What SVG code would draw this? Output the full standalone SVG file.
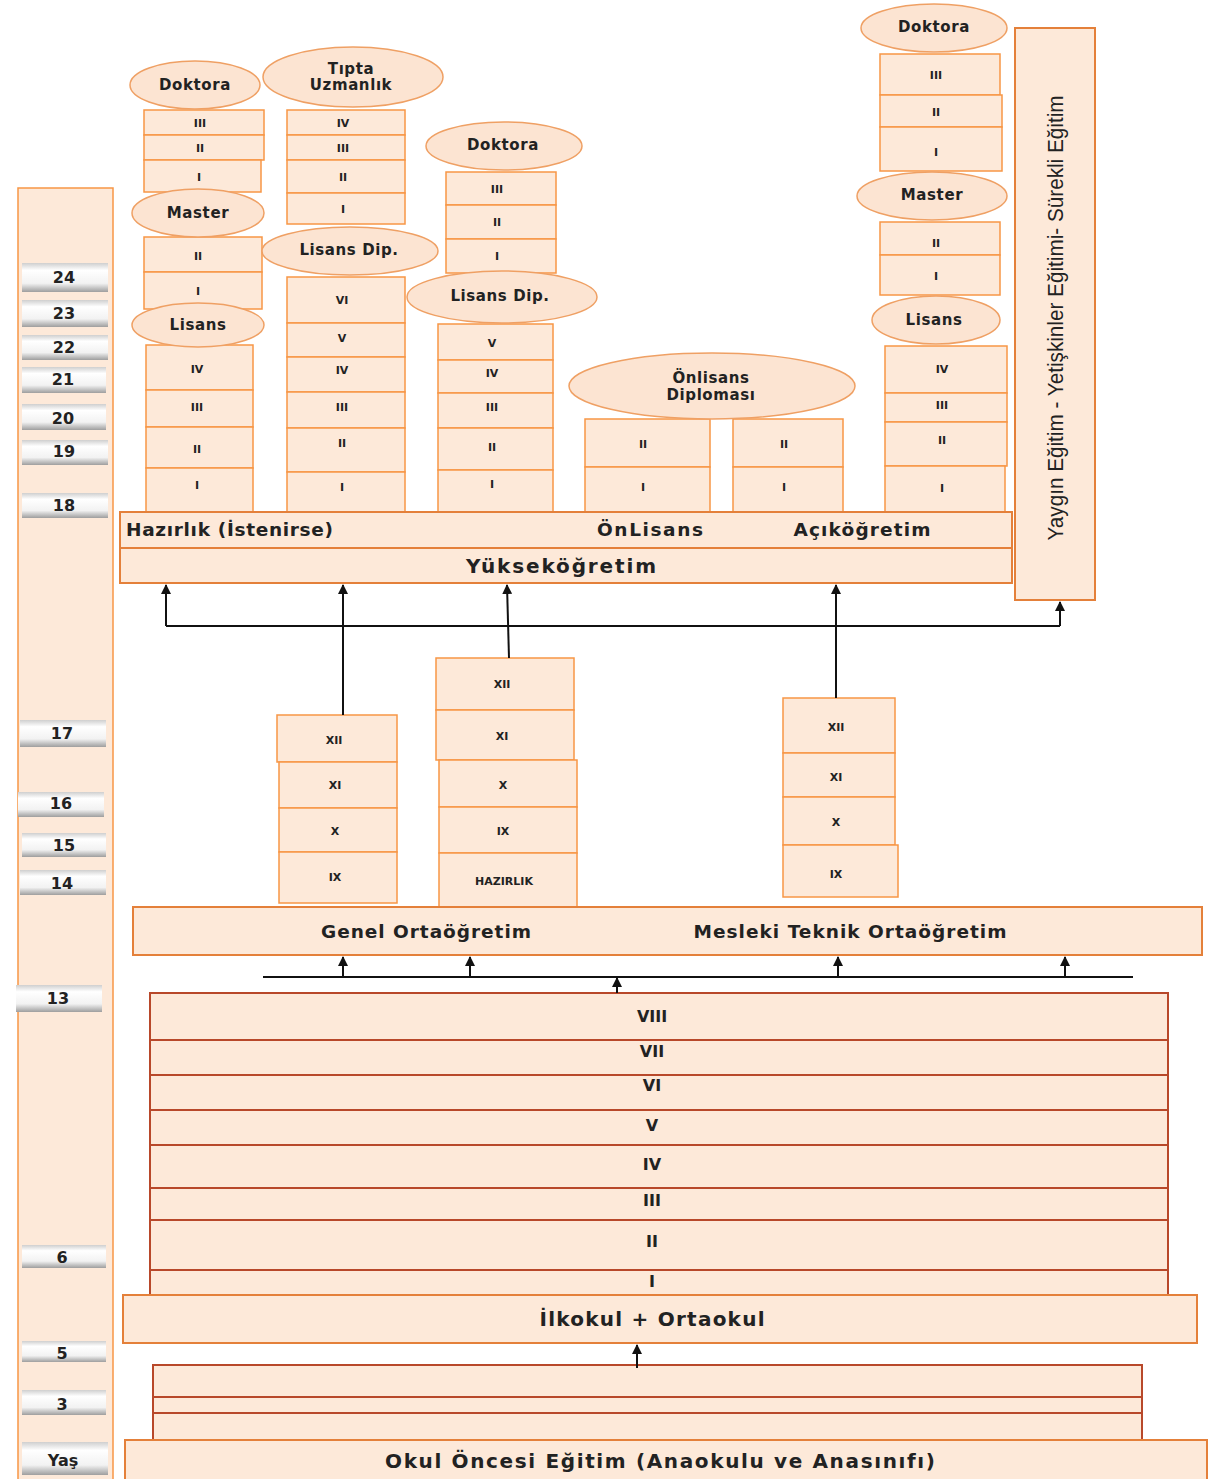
<svg xmlns="http://www.w3.org/2000/svg" width="1209" height="1479" viewBox="0 0 1209 1479">
<defs>
<linearGradient id="gray" x1="0" y1="0" x2="0" y2="1">
<stop offset="0" stop-color="#cfcfcf"/>
<stop offset="0.25" stop-color="#ffffff"/>
<stop offset="0.7" stop-color="#f2f2f2"/>
<stop offset="1" stop-color="#9e9e9e"/>
</linearGradient>
<marker id="arr" viewBox="0 0 10 10" refX="9" refY="5" markerWidth="5" markerHeight="5" orient="auto">
<path d="M0,0 L10,5 L0,10 z" fill="#111"/>
</marker>
</defs>
<style>
.cell{fill:#FDE9D9;stroke:#F79646;stroke-width:1.5}
.ell{fill:#FCE4D2;stroke:#EFA064;stroke-width:1.5}
.bar{fill:#FDE9D9;stroke:#E4803A;stroke-width:2}
.row{fill:#FDE9D9;stroke:#B8482A;stroke-width:2}
.age{fill:url(#gray);stroke:none}
.t{font-family:"DejaVu Sans",sans-serif;font-weight:bold;fill:#222;text-anchor:middle;dominant-baseline:central}
.s{font-size:11px}
.e{font-size:15px;letter-spacing:0.6px}
.b{font-size:18.5px}
.bb{font-size:20px}
.a{font-size:16px}
.conn{stroke:#111;stroke-width:2;fill:none}
</style>
<rect width="1209" height="1479" fill="#fff"/>

<g id="age-bar">
<rect x="18" y="188" width="95" height="1300" class="cell" stroke-width="2"/>
<rect class="age" x="22" y="263" width="86" height="29"/><text class="t a" x="64" y="277">24</text>
<rect class="age" x="22" y="300" width="86" height="27"/><text class="t a" x="64" y="313">23</text>
<rect class="age" x="22" y="335" width="86" height="25"/><text class="t a" x="64" y="347">22</text>
<rect class="age" x="22" y="367" width="84" height="26"/><text class="t a" x="63" y="379">21</text>
<rect class="age" x="22" y="404" width="84" height="26"/><text class="t a" x="63" y="418">20</text>
<rect class="age" x="22" y="440" width="86" height="25"/><text class="t a" x="64" y="451">19</text>
<rect class="age" x="22" y="493" width="86" height="25"/><text class="t a" x="64" y="505">18</text>
<rect class="age" x="20" y="720" width="86" height="27"/><text class="t a" x="62" y="733">17</text>
<rect class="age" x="18" y="792" width="86" height="25"/><text class="t a" x="61" y="803">16</text>
<rect class="age" x="22" y="833" width="84" height="24"/><text class="t a" x="64" y="845">15</text>
<rect class="age" x="20" y="870" width="86" height="25"/><text class="t a" x="62" y="883">14</text>
<rect class="age" x="16" y="985" width="86" height="27"/><text class="t a" x="58" y="998">13</text>
<rect class="age" x="22" y="1245" width="84" height="23"/><text class="t a" x="62" y="1257">6</text>
<rect class="age" x="22" y="1341" width="84" height="21"/><text class="t a" x="62" y="1353">5</text>
<rect class="age" x="22" y="1390" width="84" height="25"/><text class="t a" x="62" y="1404">3</text>
<rect class="age" x="22" y="1442" width="86" height="33"/><text class="t a" x="63" y="1460">Yaş</text>
</g>

<g id="col1">
<rect class="cell" x="144" y="110" width="120" height="25"/><text class="t s" x="200" y="123">III</text>
<rect class="cell" x="144" y="135" width="120" height="25"/><text class="t s" x="200" y="148">II</text>
<rect class="cell" x="144" y="160" width="117" height="32"/><text class="t s" x="199" y="177">I</text>
<rect class="cell" x="144" y="237" width="118" height="35"/><text class="t s" x="198" y="256">II</text>
<rect class="cell" x="144" y="272" width="118" height="37"/><text class="t s" x="198" y="291">I</text>
<rect class="cell" x="146" y="345" width="107" height="45"/><text class="t s" x="197" y="369">IV</text>
<rect class="cell" x="146" y="390" width="107" height="37"/><text class="t s" x="197" y="407">III</text>
<rect class="cell" x="146" y="427" width="107" height="41"/><text class="t s" x="197" y="449">II</text>
<rect class="cell" x="146" y="468" width="107" height="44"/><text class="t s" x="197" y="485">I</text>
<ellipse class="ell" cx="195" cy="85" rx="65" ry="24"/><text class="t e" x="195" y="85">Doktora</text>
<ellipse class="ell" cx="198" cy="213" rx="66" ry="24"/><text class="t e" x="198" y="213">Master</text>
<ellipse class="ell" cx="198" cy="325" rx="66" ry="22"/><text class="t e" x="198" y="325">Lisans</text>
</g>

<g id="col2">
<rect class="cell" x="287" y="110" width="118" height="25"/><text class="t s" x="343" y="123">IV</text>
<rect class="cell" x="287" y="135" width="118" height="25"/><text class="t s" x="343" y="148">III</text>
<rect class="cell" x="287" y="160" width="118" height="33"/><text class="t s" x="343" y="177">II</text>
<rect class="cell" x="287" y="193" width="118" height="31"/><text class="t s" x="343" y="209">I</text>
<rect class="cell" x="287" y="277" width="118" height="46"/><text class="t s" x="342" y="300">VI</text>
<rect class="cell" x="287" y="323" width="118" height="34"/><text class="t s" x="342" y="338">V</text>
<rect class="cell" x="287" y="357" width="118" height="35"/><text class="t s" x="342" y="370">IV</text>
<rect class="cell" x="287" y="392" width="118" height="36"/><text class="t s" x="342" y="407">III</text>
<rect class="cell" x="287" y="428" width="118" height="44"/><text class="t s" x="342" y="443">II</text>
<rect class="cell" x="287" y="472" width="118" height="40"/><text class="t s" x="342" y="487">I</text>
<ellipse class="ell" cx="353" cy="77" rx="90" ry="30"/><text class="t e" x="351" y="69">Tıpta</text><text class="t e" x="351" y="85">Uzmanlık</text>
<ellipse class="ell" cx="350" cy="251" rx="88" ry="24"/><text class="t e" x="349" y="250">Lisans Dip.</text>
</g>

<g id="col3">
<rect class="cell" x="446" y="172" width="110" height="33"/><text class="t s" x="497" y="189">III</text>
<rect class="cell" x="446" y="205" width="110" height="34"/><text class="t s" x="497" y="222">II</text>
<rect class="cell" x="446" y="239" width="110" height="34"/><text class="t s" x="497" y="256">I</text>
<rect class="cell" x="438" y="324" width="115" height="36"/><text class="t s" x="492" y="343">V</text>
<rect class="cell" x="438" y="360" width="115" height="33"/><text class="t s" x="492" y="373">IV</text>
<rect class="cell" x="438" y="393" width="115" height="35"/><text class="t s" x="492" y="407">III</text>
<rect class="cell" x="438" y="428" width="115" height="42"/><text class="t s" x="492" y="447">II</text>
<rect class="cell" x="438" y="470" width="115" height="42"/><text class="t s" x="492" y="484">I</text>
<ellipse class="ell" cx="504" cy="146" rx="78" ry="24"/><text class="t e" x="503" y="145">Doktora</text>
<ellipse class="ell" cx="502" cy="297" rx="95" ry="26"/><text class="t e" x="500" y="296">Lisans Dip.</text>
</g>

<g id="col4">
<rect class="cell" x="585" y="419" width="125" height="48"/><text class="t s" x="643" y="444">II</text>
<rect class="cell" x="585" y="467" width="125" height="45"/><text class="t s" x="643" y="487">I</text>
<rect class="cell" x="733" y="419" width="110" height="48"/><text class="t s" x="784" y="444">II</text>
<rect class="cell" x="733" y="467" width="110" height="45"/><text class="t s" x="784" y="487">I</text>
<ellipse class="ell" cx="712" cy="386" rx="143" ry="33"/><text class="t e" x="711" y="378">Önlisans</text><text class="t e" x="711" y="395">Diploması</text>
</g>

<g id="col5">
<rect class="cell" x="880" y="54" width="120" height="41"/><text class="t s" x="936" y="75">III</text>
<rect class="cell" x="880" y="95" width="122" height="32"/><text class="t s" x="936" y="112">II</text>
<rect class="cell" x="880" y="127" width="122" height="44"/><text class="t s" x="936" y="152">I</text>
<rect class="cell" x="880" y="222" width="120" height="33"/><text class="t s" x="936" y="243">II</text>
<rect class="cell" x="880" y="255" width="120" height="40"/><text class="t s" x="936" y="276">I</text>
<rect class="cell" x="885" y="346" width="122" height="47"/><text class="t s" x="942" y="369">IV</text>
<rect class="cell" x="885" y="393" width="122" height="29"/><text class="t s" x="942" y="405">III</text>
<rect class="cell" x="885" y="422" width="122" height="44"/><text class="t s" x="942" y="440">II</text>
<rect class="cell" x="885" y="466" width="120" height="46"/><text class="t s" x="942" y="488">I</text>
<ellipse class="ell" cx="934" cy="28" rx="73" ry="24"/><text class="t e" x="934" y="27">Doktora</text>
<ellipse class="ell" cx="932" cy="196" rx="75" ry="24"/><text class="t e" x="932" y="195">Master</text>
<ellipse class="ell" cx="936" cy="320" rx="64" ry="24"/><text class="t e" x="934" y="320">Lisans</text>
</g>

<g id="yaygin">
<rect class="bar" x="1015" y="28" width="80" height="572"/>
<text x="1055" y="318" transform="rotate(-90 1055 318)" font-family="Liberation Sans, sans-serif" font-size="22" fill="#222" text-anchor="middle" dominant-baseline="central" textLength="445" lengthAdjust="spacingAndGlyphs">Yaygın Eğitim - Yetişkinler Eğitimi- Sürekli Eğitim</text>
</g>

<g id="hazirlik">
<rect class="bar" x="120" y="512" width="892" height="36"/>
<text class="t b" x="126" y="529" style="text-anchor:start" textLength="207" lengthAdjust="spacing">Hazırlık (İstenirse)</text>
<text class="t b" x="650" y="529" textLength="106" lengthAdjust="spacing">ÖnLisans</text>
<text class="t b" x="862" y="529" textLength="137" lengthAdjust="spacing">Açıköğretim</text>
</g>

<g id="yuksekogretim">
<rect class="bar" x="120" y="548" width="892" height="35"/>
<text class="t bb" x="561" y="566" textLength="190" lengthAdjust="spacing">Yükseköğretim</text>
</g>

<g id="secA">
<rect class="cell" x="277" y="715" width="120" height="47"/><text class="t s" x="334" y="740">XII</text>
<rect class="cell" x="279" y="762" width="118" height="46"/><text class="t s" x="335" y="785">XI</text>
<rect class="cell" x="279" y="808" width="118" height="44"/><text class="t s" x="335" y="831">X</text>
<rect class="cell" x="279" y="852" width="118" height="51"/><text class="t s" x="335" y="877">IX</text>
</g>

<g id="secB">
<rect class="cell" x="436" y="658" width="138" height="52"/><text class="t s" x="502" y="684">XII</text>
<rect class="cell" x="436" y="710" width="138" height="50"/><text class="t s" x="502" y="736">XI</text>
<rect class="cell" x="439" y="760" width="138" height="47"/><text class="t s" x="503" y="785">X</text>
<rect class="cell" x="439" y="807" width="138" height="46"/><text class="t s" x="503" y="831">IX</text>
<rect class="cell" x="439" y="853" width="138" height="54"/><text class="t s" x="504" y="881">HAZIRLIK</text>
</g>

<g id="secC">
<rect class="cell" x="783" y="698" width="112" height="55"/><text class="t s" x="836" y="727">XII</text>
<rect class="cell" x="783" y="753" width="112" height="44"/><text class="t s" x="836" y="777">XI</text>
<rect class="cell" x="783" y="797" width="112" height="48"/><text class="t s" x="836" y="822">X</text>
<rect class="cell" x="783" y="845" width="115" height="52"/><text class="t s" x="836" y="874">IX</text>
</g>

<g id="ortaogretim">
<rect class="bar" x="133" y="907" width="1069" height="48"/>
<text class="t b" x="426" y="931" textLength="210" lengthAdjust="spacing">Genel Ortaöğretim</text>
<text class="t b" x="850" y="931" textLength="313" lengthAdjust="spacing">Mesleki Teknik Ortaöğretim</text>
</g>

<g id="primary">
<rect class="row" x="150" y="993" width="1018" height="47"/><text class="t a" x="652" y="1016">VIII</text>
<rect class="row" x="150" y="1040" width="1018" height="35"/><text class="t a" x="652" y="1051">VII</text>
<rect class="row" x="150" y="1075" width="1018" height="35"/><text class="t a" x="652" y="1085">VI</text>
<rect class="row" x="150" y="1110" width="1018" height="35"/><text class="t a" x="652" y="1125">V</text>
<rect class="row" x="150" y="1145" width="1018" height="43"/><text class="t a" x="652" y="1164">IV</text>
<rect class="row" x="150" y="1188" width="1018" height="32"/><text class="t a" x="652" y="1200">III</text>
<rect class="row" x="150" y="1220" width="1018" height="50"/><text class="t a" x="652" y="1241">II</text>
<rect class="row" x="150" y="1270" width="1018" height="30"/><text class="t a" x="652" y="1281">I</text>
</g>

<g id="ilkokul">
<rect class="bar" x="123" y="1295" width="1074" height="48"/>
<text class="t bb" x="652" y="1319" textLength="225" lengthAdjust="spacing">İlkokul + Ortaokul</text>
</g>

<g id="preschool-rows">
<rect class="row" x="153" y="1365" width="989" height="32"/>
<rect class="row" x="153" y="1397" width="989" height="16"/>
<rect class="row" x="153" y="1413" width="989" height="27"/>
</g>

<g id="okuloncesi">
<rect class="bar" x="125" y="1440" width="1082" height="45"/>
<text class="t bb" x="660" y="1461" textLength="550" lengthAdjust="spacing">Okul Öncesi Eğitim (Anaokulu ve Anasınıfı)</text>
</g>

<g id="connectors">
<path class="conn" d="M166,626 H1060"/>
<path class="conn" d="M166,626 V585" marker-end="url(#arr)"/>
<path class="conn" d="M1060,626 V602" marker-end="url(#arr)"/>
<path class="conn" d="M343,715 V585" marker-end="url(#arr)"/>
<path class="conn" d="M509,658 L507,585" marker-end="url(#arr)"/>
<path class="conn" d="M836,698 V585" marker-end="url(#arr)"/>
<path class="conn" d="M263,977 H1133" stroke-width="2.5"/>
<path class="conn" d="M343,977 V957" marker-end="url(#arr)"/>
<path class="conn" d="M470,977 V957" marker-end="url(#arr)"/>
<path class="conn" d="M838,977 V957" marker-end="url(#arr)"/>
<path class="conn" d="M1065,977 V957" marker-end="url(#arr)"/>
<path class="conn" d="M617,993 V978" marker-end="url(#arr)"/>
<path class="conn" d="M637,1368 V1345" marker-end="url(#arr)"/>
</g>
</svg>
